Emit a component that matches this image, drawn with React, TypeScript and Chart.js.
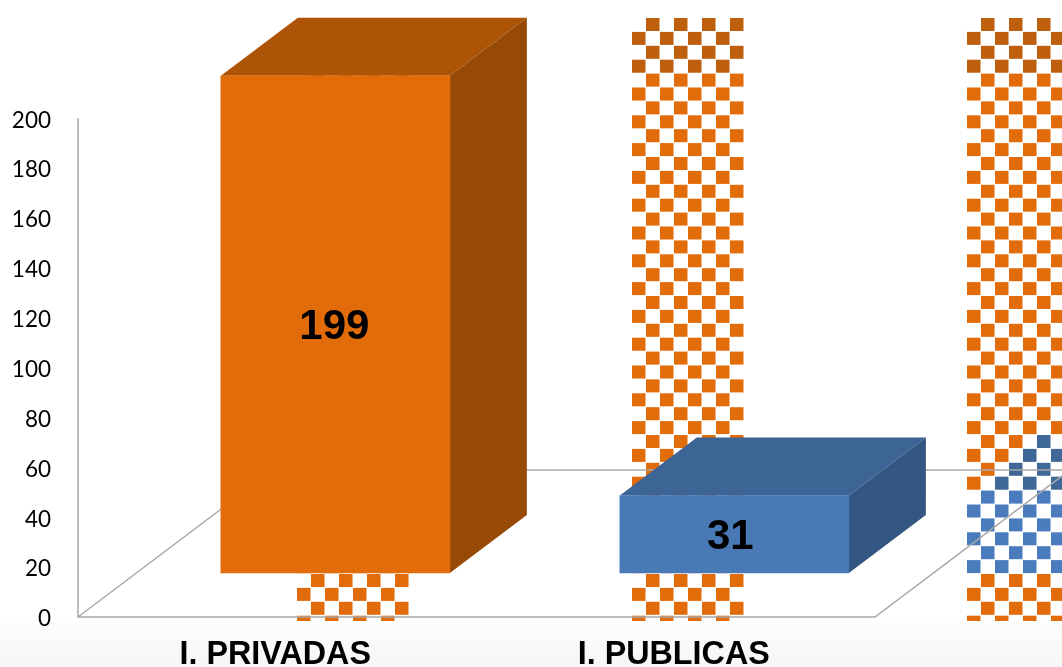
import React, { useEffect, useRef } from "react";
import { Chart, registerables } from "chart.js";

Chart.register(...registerables);

const categories = ["I. PRIVADAS", "I. PUBLICAS"];
const barIndex = [0, 1];
const values = [199, 31];
const yTicks = [0, 20, 40, 60, 80, 100, 120, 140, 160, 180, 200];
const frontColors = ["#e36c0a", "#4a7ab6"];
const topColors = ["#ae5407", "#3c6494"];
const sideColors = ["#964a05", "#345682"];
const labelNudge = [-1, -4];

const DEPTH_X = 77;
const DEPTH_Y = 58;
const AXIS_COLOR = "#a8a8a8";

function poly(ctx: CanvasRenderingContext2D, pts: number[][], fill: string) {
  ctx.beginPath();
  pts.forEach((p, i) => (i ? ctx.lineTo(p[0], p[1]) : ctx.moveTo(p[0], p[1])));
  ctx.closePath();
  ctx.fillStyle = fill;
  ctx.fill();
}

function inGhost(x: number, y: number) {
  if (y > 573 || y < 437) return false;
  if (y >= 495) return x >= 962;
  return x >= 967 + ((495 - y) / 58) * 77 - 4;
}

function drawCheckers(ctx: CanvasRenderingContext2D) {
  const starts = [297, 632, 967];
  const cell = 14;
  const row = 13.9;
  ctx.save();
  ctx.beginPath();
  ctx.rect(0, 16, 1062, 605);
  ctx.clip();
  ctx.filter = "blur(0.7px)";
  starts.forEach((sx, s) => {
    for (let r = 0; r < 44; r++) {
      const y = 18 + r * row;
      for (let c = 0; c < 8; c++) {
        if ((r + c) % 2 === 0) continue;
        const x = sx + c * cell;
        const cx = x + 6;
        const cy = y + 6;
        let color = cy < 75 ? "#bd5f0c" : "#e36c0a";
        if (s === 2 && inGhost(cx, cy)) color = cy < 495 ? "#3f6898" : "#4a7bbd";
        ctx.fillStyle = color;
        ctx.fillRect(x, y, 13.5, 13);
      }
    }
  });
  ctx.restore();
}

const box3d = {
  id: "box3d",
  beforeDraw(chart: any) {
    const { ctx } = chart;
    ctx.save();
    ctx.fillStyle = "#ffffff";
    ctx.fillRect(0, 0, chart.width, chart.height);
    const g = ctx.createLinearGradient(0, 622, 0, 667);
    g.addColorStop(0, "#fdfdfd");
    g.addColorStop(1, "#f6f6f6");
    ctx.fillStyle = g;
    ctx.fillRect(0, 622, chart.width, 45);
    ctx.restore();
  },
  beforeDatasetsDraw(chart: any) {
    const { ctx, chartArea } = chart;
    const y = chart.scales.y;
    const top = y.getPixelForValue(200);
    const bottom = y.getPixelForValue(0);
    const left = chartArea.left;
    const right = chartArea.right;
    const back = bottom - 147;
    ctx.save();
    drawCheckers(ctx);
    ctx.strokeStyle = AXIS_COLOR;
    ctx.lineWidth = 1.5;
    ctx.beginPath();
    ctx.moveTo(left, top);
    ctx.lineTo(left, bottom);
    ctx.lineTo(right, bottom);
    ctx.lineTo(right + 195, back);
    ctx.lineTo(chart.width, back);
    ctx.moveTo(left, bottom);
    ctx.lineTo(left + 195, back);
    ctx.lineTo(chart.width, back);
    ctx.stroke();
    const meta = chart.getDatasetMeta(0);
    meta.data.forEach((b: any, i: number) => {
      const l = b.x - b.width / 2;
      const r = b.x + b.width / 2;
      poly(ctx, [[l, b.y], [l + DEPTH_X, b.y - DEPTH_Y], [r + DEPTH_X, b.y - DEPTH_Y], [r, b.y]], topColors[i]);
      poly(ctx, [[r, b.y], [r + DEPTH_X, b.y - DEPTH_Y], [r + DEPTH_X, b.base - DEPTH_Y], [r, b.base]], sideColors[i]);
    });
    ctx.restore();
  },
  afterDatasetsDraw(chart: any) {
    const { ctx } = chart;
    const meta = chart.getDatasetMeta(0);
    ctx.save();
    ctx.fillStyle = "#000000";
    ctx.font = 'bold 42px "Liberation Sans", Arial, sans-serif';
    ctx.textAlign = "center";
    ctx.textBaseline = "middle";
    meta.data.forEach((b: any, i: number) => {
      ctx.fillText(String(values[i]), b.x + labelNudge[i], (b.y + b.base) / 2 + 3.5);
    });
    ctx.restore();
  },
};

export default function App() {
  const ref = useRef<HTMLCanvasElement>(null);
  useEffect(() => {
    if (!ref.current) return;
    const chart = new Chart(ref.current, {
      type: "bar",
      data: {
        labels: categories,
        datasets: [
          {
            data: barIndex.map((x, i) => ({ x, y: values[i] })),
            backgroundColor: frontColors,
            borderWidth: 0,
            barThickness: 229,
            xAxisID: "xBars",
            yAxisID: "yBars",
            clip: false,
          } as any,
        ],
      },
      plugins: [box3d],
      options: {
        animation: false,
        responsive: false,
        layout: { autoPadding: false, padding: { left: 0, top: 0, bottom: 0, right: 187 } },
        plugins: { legend: { display: false }, tooltip: { enabled: false }, title: { display: false } },
        scales: {
          x: {
            type: "category",
            offset: true,
            grid: { display: false, drawTicks: false },
            border: { display: false },
            ticks: {
              color: "#000000",
              padding: 19,
              labelOffset: -2,
              maxRotation: 0,
              autoSkip: false,
              font: { family: '"Liberation Sans", Arial, sans-serif', size: 32.3, weight: "bold" },
            },
            afterFit: (s: any) => {
              s.height = 50;
            },
          },
          y: {
            type: "linear",
            position: "left",
            min: 0,
            max: 231.18,
            grid: { display: false, drawTicks: false },
            border: { display: false },
            afterBuildTicks: (s: any) => {
              s.ticks = yTicks.map((value) => ({ value }));
            },
            ticks: {
              color: "#000000",
              padding: 27,
              labelOffset: 2,
              font: { family: "Lato, sans-serif", size: 22.5 },
            },
            afterFit: (s: any) => {
              s.width = 78;
            },
          },
          xBars: {
            type: "linear",
            display: false,
            offset: false,
            min: -0.645,
            max: 1.3525,
            grid: { display: false },
          },
          yBars: {
            type: "linear",
            display: false,
            position: "left",
            min: -17.6,
            max: 213.12,
            grid: { display: false },
          },
        } as any,
      },
    });
    return () => chart.destroy();
  }, []);
  return (
    <canvas
      ref={ref}
      width={1062}
      height={667}
      style={{ position: "fixed", left: 0, top: 0, width: 1062, height: 667, display: "block" }}
    />
  );
}
